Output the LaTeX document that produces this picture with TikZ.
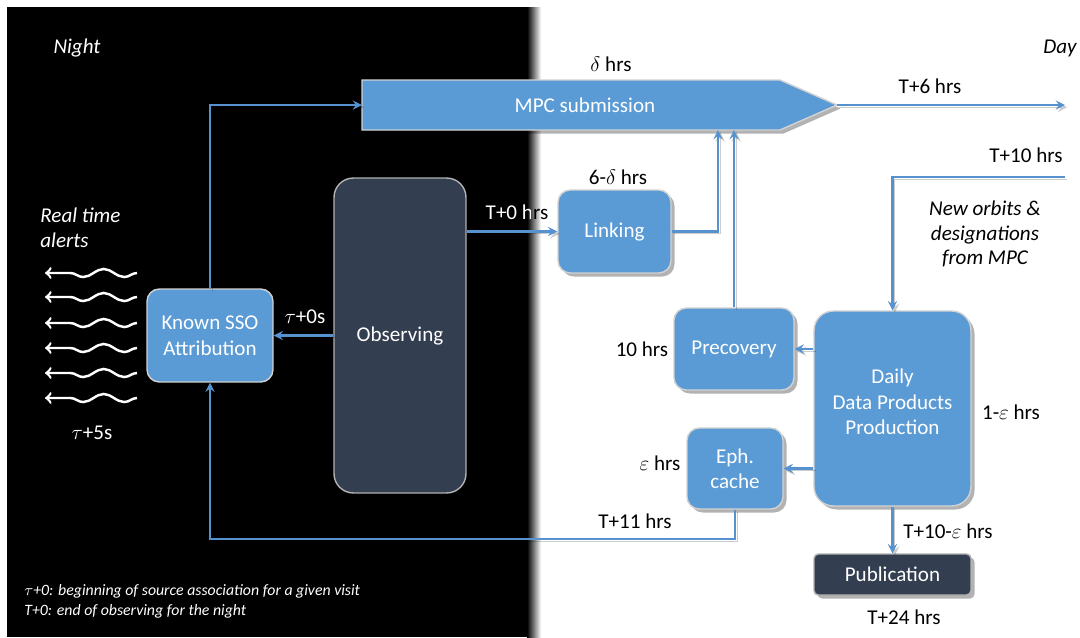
\documentclass[tikz,border=0pt]{standalone}
\usepackage{fontspec}
\setmainfont{Carlito}
\usepackage{tikz}
\usetikzlibrary{arrows}
\tikzset{>=stealth}
\usetikzlibrary{shadows}
\usetikzlibrary{decorations.pathmorphing}
\usetikzlibrary{positioning}

\definecolor{boxblue}{HTML}{5B9BD5}
\definecolor{boxdark}{HTML}{333F50}
\definecolor{linkblue}{HTML}{5592CF}

\tikzset{
  box/.style={draw=gray!35, line width=0.8pt, fill=boxblue, text=white,
    align=center, rounded corners=7pt, inner sep=2pt},
  darkbox/.style={box, fill=boxdark, draw=gray!60},
  shadowed/.style={drop shadow={shadow xshift=2pt, shadow yshift=-2pt,
    opacity=0.3, fill=black}},
  flow/.style={->, draw=linkblue, line width=1.3pt,
    preaction={draw=black, opacity=0.2,
      transform canvas={shift={(1.3pt,-1.3pt)}}}},
  lbl/.style={align=center},
  itlbl/.style={align=center, font=\fontsize{12}{14}\selectfont\itshape},
  note/.style={font=\fontsize{9}{11}\selectfont\itshape, text=white,
    anchor=west, inner sep=0pt},
  alertwave/.style={-to, white, line width=1.4pt, decorate,
    decoration={snake, amplitude=2.3pt, segment length=0.82cm, post length=4pt}}
}

\begin{document}
\begin{tikzpicture}[x=0.02cm, y=-0.02cm,
  every node/.style={font=\fontsize{12}{14.5}\selectfont}]

    \fill[white] (0,0) rectangle (1080,637);
    \useasboundingbox (0,0) rectangle (1080,637);

    % night side
    \fill[black] (7,7) rectangle (527,637);
    \shade[left color=black, right color=white] (527,7) rectangle (541,637);

    \node[itlbl, white] (night) at (77,48) {Night};
    \node[itlbl] (day) at (1060,48) {Day};

    % MPC submission
    \filldraw[fill=boxblue, draw=gray!35, line width=0.8pt, shadowed]
      (362,80) -- (780,80) -- (837,105) -- (780,130) -- (362,130) -- cycle;
    \node[lbl, white] (mpc) at (585,105) {MPC submission};
    \coordinate (mpcw) at (362,105);
    \coordinate (mpce) at (837,105);
    \coordinate (mpcs1) at (718,130);
    \coordinate (mpcs2) at (734,130);
    \coordinate (dayout) at (1065,105);
    \coordinate (orbitin) at (1065,177);

    % boxes
    \node[box, rounded corners=7pt, minimum width=2.52cm, minimum height=1.86cm]
      (ksso) at (210,335.5) {Known SSO\\Attribution};
    \node[darkbox, rounded corners=11pt, minimum width=2.64cm, minimum height=6.3cm]
      (obs) at (400,335.5) {Observing};
    \node[box, shadowed, minimum width=2.26cm, minimum height=1.66cm]
      (link) at (614.5,231.5) {Linking};
    \node[box, shadowed, minimum width=2.4cm, minimum height=1.64cm]
      (precov) at (734,349) {Precovery};
    \node[box, shadowed, rounded corners=11pt, minimum width=3.14cm, minimum height=3.9cm]
      (daily) at (892.5,408.5) {Daily\\Data Products\\Production\\[-7pt]\mbox{}};
    \node[box, shadowed, minimum width=1.92cm, minimum height=1.62cm]
      (eph) at (735,468.5) {Eph.\\cache};
    \node[darkbox, shadowed, rounded corners=2.5pt, minimum width=3.14cm, minimum height=0.82cm]
      (pub) at (892.5,574.5) {Publication};

    % connectors
    \draw[flow] (ksso.north) |- (mpcw);
    \draw[flow] (mpce) -- (dayout);
    \draw[flow] (obs.west) -- (ksso.east);
    \draw[flow] (obs.east |- link.west) -- (link.west);
    \draw[flow] (link.east) -| (mpcs1);
    \draw[flow] (precov.north) -- (mpcs2);
    \draw[flow] (orbitin) -| (daily.north);
    \draw[flow] (daily.west |- precov.east) -- (precov.east);
    \draw[flow] (daily.west |- eph.east) -- (eph.east);
    \draw[flow] (eph.south) -- ++(0,29) -| (ksso.south);
    \draw[flow] (daily.south) -- (pub.north);

    % alerts
    \foreach \y in {273,297,323,348,373,398}
      \draw[alertwave] (137,\y) -- (45,\y);

    % labels
    \node[itlbl, white, align=left, anchor=west, inner sep=0pt]
      (alerts) at (40,227.5) {Real time\\alerts};
    \node[lbl, white] (tau0) at (305,317) {$\tau$+0s};
    \node[lbl, white] (tau5) at (92,433) {$\tau$+5s};
    \begin{scope}
      \clip (0,0) rectangle (531,637);
      \node[lbl, white] (t0) at (517,212) {T+0 hrs};
    \end{scope}
    \begin{scope}
      \clip (531,0) rectangle (1080,637);
      \node[lbl] (t0day) at (517,212) {T+0 hrs};
    \end{scope}
    \node[lbl] (dlt) at (611,64) {$\delta$ hrs};
    \node[lbl] (t6) at (930,86) {T+6 hrs};
    \node[lbl] (t10) at (1026,155) {T+10 hrs};
    \node[itlbl] (orbits) at (985,234) {New orbits \&\\designations\\from MPC};
    \node[lbl] (sixd) at (618,177) {6-$\delta$ hrs};
    \node[lbl] (ten) at (642,349) {10 hrs};
    \node[lbl] (oneeps) at (1011,412) {1-$\varepsilon$ hrs};
    \node[lbl] (eps) at (660,463) {$\varepsilon$ hrs};
    \node[lbl] (t11) at (635,521) {T+11 hrs};
    \node[lbl] (t10e) at (948,531) {T+10-$\varepsilon$ hrs};
    \node[lbl] (t24) at (904,617) {T+24 hrs};

    \node[note] (note1) at (24,591) {$\tau$+0: beginning of source association for a given visit};
    \node[note] (note2) at (24,611) {T+0: end of observing for the night};

\end{tikzpicture}
\end{document}
